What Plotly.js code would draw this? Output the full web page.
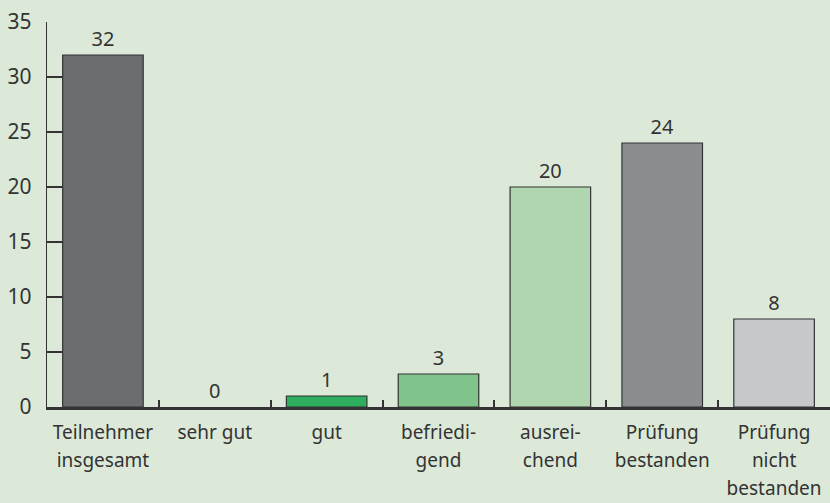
<!DOCTYPE html>
<html>
<head>
<meta charset="utf-8">
<script src="https://cdn.plot.ly/plotly-3.0.1.min.js"></script>
<style>html,body{margin:0;padding:0;background:#dce9d9;overflow:hidden;}</style>
</head>
<body>
<div id="chart" style="width:830px;height:503px;"></div>
<script>
const categories = ["Teilnehmer<br>insgesamt", "sehr gut", "gut", "befriedi-<br>gend", "ausrei-<br>chend", "Prüfung<br>bestanden", "Prüfung<br>nicht<br>bestanden"];
const values = [32, 0, 1, 3, 20, 24, 8];
const barColors = ["#6a6e71", "#3aa86a", "#2eae5e", "#80c48b", "#b0d6b0", "#8a8e91", "#c5c9cb"];
const yTicks = [0, 5, 10, 15, 20, 25, 30, 35];

const fontFam = "Noto Sans, sans-serif";
const textCol = "#333333";

// tick text: same category strings, drawn a bit smaller than the line-spacing base size
const tickText = categories.map(c => c.split("<br>").map(l => '<span style="font-size:19px">' + l + '</span>').join("<br>"));

Plotly.newPlot("chart", [{
  type: "bar",
  x: categories,
  y: values,
  marker: {color: barColors, line: {color: "#333333", width: values.map(v => v === 0 ? 0 : 1.2)}},
  text: values.map(String),
  textposition: "outside",
  cliponaxis: false,
  textfont: {family: fontFam, size: 20, color: textCol},
  hoverinfo: "skip"
}], {
  width: 830,
  height: 503,
  margin: {l: 47, r: 0, t: 22, b: 96, pad: 0},
  paper_bgcolor: "#dce9d9",
  plot_bgcolor: "#dce9d9",
  bargap: 0.28,
  showlegend: false,
  font: {family: fontFam, size: 19, color: textCol},
  xaxis: {
    type: "category",
    range: [-0.5, 6.5],
    tickvals: categories,
    ticktext: tickText,
    showline: true,
    linecolor: "#333333",
    linewidth: 2.5,
    ticks: "inside",
    tickson: "boundaries",
    ticklen: 7,
    tickwidth: 2,
    tickcolor: "#333333",
    showgrid: false,
    zeroline: false,
    ticklabelstandoff: 4,
    tickfont: {family: fontFam, size: 21.5, color: textCol}
  },
  yaxis: {
    range: [0, 35],
    tickvals: yTicks,
    showline: true,
    linecolor: "#333333",
    linewidth: 1.2,
    ticks: "inside",
    ticklen: 20,
    tickwidth: 1.2,
    tickcolor: "#333333",
    showgrid: false,
    zeroline: false,
    layer: "below traces",
    ticklabelstandoff: 10,
    tickfont: {family: fontFam, size: 21, color: textCol}
  }
}, {displayModeBar: false, staticPlot: true});
</script>
</body>
</html>
